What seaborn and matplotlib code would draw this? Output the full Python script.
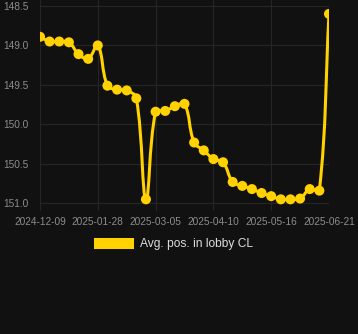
import numpy as np
import pandas as pd
import matplotlib
matplotlib.use("Agg")
import matplotlib.pyplot as plt
import seaborn as sns
from matplotlib.path import Path
from matplotlib.patches import PathPatch, Patch

# ---- data ----
tick_labels = ["2024-12-09", "2025-01-28", "2025-03-05", "2025-04-10", "2025-05-16", "2025-06-21"]
positions = [148.89, 148.95, 148.95, 148.96, 149.11, 149.17, 149.00, 149.51, 149.56, 149.57,
             149.67, 150.95, 149.84, 149.83, 149.77, 149.74, 150.23, 150.33, 150.44, 150.48,
             150.73, 150.78, 150.82, 150.87, 150.91, 150.95, 150.95, 150.94, 150.82, 150.84,
             148.60]
y_ticks = [148.5, 149.0, 149.5, 150.0, 150.5, 151.0]
series_name = "Avg. pos. in lobby CL"

# ---- style ----
BG = "#111111"
GRID = "#252525"
YELLOW = "#ffd200"
TXT = "#8c8c8c"

sns.set_style("dark", {"axes.facecolor": BG, "figure.facecolor": BG})
plt.rcParams["font.family"] = ["Liberation Sans", "DejaVu Sans"]

df = pd.DataFrame({"idx": np.arange(len(positions)), "pos": positions})

fig = plt.figure(figsize=(3.58, 3.34), dpi=100)
fig.patch.set_facecolor(BG)
W, H = 358, 334
ax_left, ax_right, ax_top, ax_bottom = 40, 329, 0, 211
ax = fig.add_axes([ax_left / W, 1 - ax_bottom / H, (ax_right - ax_left) / W, (ax_bottom - ax_top) / H])
ax.set_facecolor(BG)

ax.set_xlim(0, len(positions) - 1)
ax.set_ylim(151.098, 148.424)

# smooth line: spline with tension (cardinal-style bezier), computed in display space
disp = ax.transData.transform(np.column_stack([df["idx"].values, df["pos"].values]))
bb = ax.get_window_extent()
tension = 0.4
n = len(disp)
cp_prev = []
cp_next = []
for i in range(n):
    cur = disp[i]
    prev = disp[i - 1] if i > 0 else cur
    nxt = disp[i + 1] if i < n - 1 else cur
    d01 = np.linalg.norm(cur - prev)
    d12 = np.linalg.norm(nxt - cur)
    tot = d01 + d12
    s01 = d01 / tot if tot else 0.0
    s12 = d12 / tot if tot else 0.0
    v = nxt - prev
    cprev = cur - tension * s01 * v
    cnext = cur + tension * s12 * v
    for c in (cprev, cnext):
        c[0] = min(max(c[0], bb.x0), bb.x1)
        c[1] = min(max(c[1], bb.y0), bb.y1)
    cp_prev.append(cprev)
    cp_next.append(cnext)

verts = [tuple(disp[0])]
codes = [Path.MOVETO]
for i in range(1, n):
    verts += [tuple(cp_next[i - 1]), tuple(cp_prev[i]), tuple(disp[i])]
    codes += [Path.CURVE4] * 3

data_verts = ax.transData.inverted().transform(np.array(verts))
path = Path(data_verts, codes)
ax.add_patch(PathPatch(path, fill=False, edgecolor=YELLOW, lw=2.2,
                       capstyle="round", joinstyle="round", zorder=3))

sns.scatterplot(data=df, x="idx", y="pos", ax=ax, color=YELLOW, s=52,
                edgecolor="none", linewidth=0, zorder=4, legend=False)

ax.set_xlim(0, len(positions) - 1)
ax.set_ylim(151.098, 148.424)

ax.set_xticks(np.arange(0, len(positions), 6))
ax.set_xticklabels(tick_labels)
ax.set_yticks(y_ticks)
ax.set_yticklabels([f"{v:.1f}" for v in y_ticks])
ax.tick_params(axis="x", length=0, pad=4, labelsize=7.3, labelcolor=TXT)
ax.tick_params(axis="y", length=0, pad=8, labelsize=7.3, labelcolor=TXT)
ax.grid(True, color=GRID, linewidth=0.8)
ax.set_axisbelow(True)
for s in ax.spines.values():
    s.set_visible(False)
ax.set_xlabel("")
ax.set_ylabel("")

fig.legend(handles=[Patch(facecolor=YELLOW, edgecolor="none")], labels=[series_name],
           loc="center", bbox_to_anchor=(0.485, 1 - 244 / H), frameon=False,
           handlelength=3.33, handleheight=1.0, handletextpad=0.5,
           fontsize=8.64, labelcolor="#dddddd")

fig.savefig("out.png", dpi=100, facecolor=BG)
